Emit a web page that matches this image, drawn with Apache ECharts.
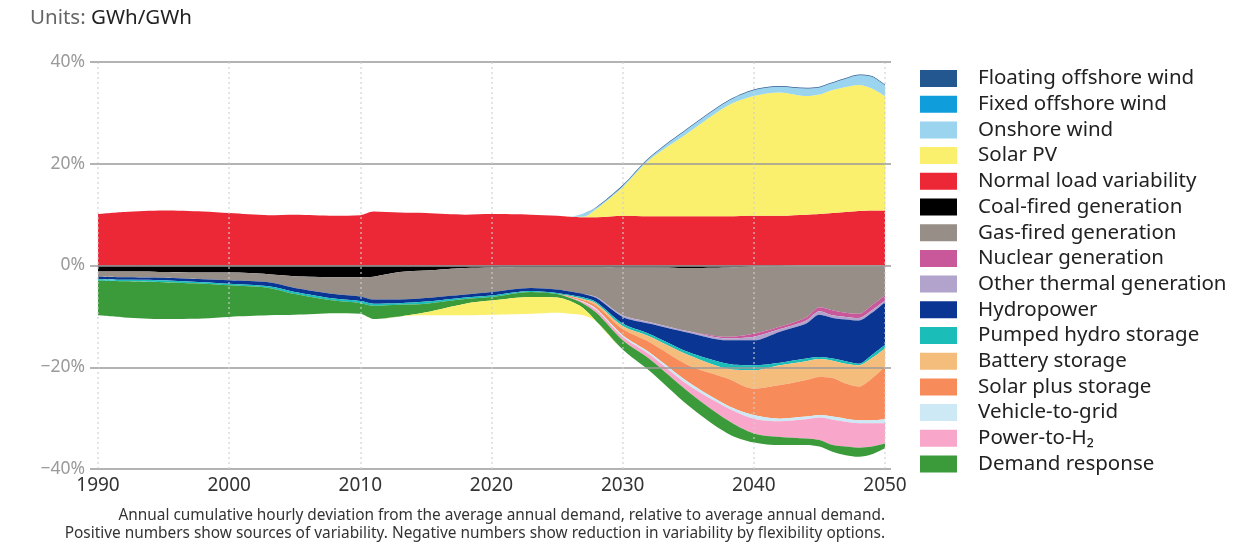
<!DOCTYPE html>
<html><head><meta charset="utf-8">
<script src="https://cdn.jsdelivr.net/npm/echarts@6/dist/echarts.min.js"></script>
<style>html,body{margin:0;padding:0;background:#fff}#c{width:1252px;height:545px}</style>
</head><body><div id="c"></div><script>
const years = [1990,1992,1995,1998,2000,2003,2005,2008,2010,2011,2013,2015,2018,2020,2023,2025,2026,2027,2028,2030,2032,2035,2038,2040,2042,2044,2045,2046,2047,2048,2049,2050];

// Positive side (sources of variability)
const normalLoad = [10.1,10.5,10.8,10.6,10.3,9.9,10.0,9.8,9.9,10.6,10.4,10.3,10.0,10.1,10.0,9.8,9.6,9.5,9.5,9.8,9.7,9.7,9.7,9.8,9.8,10.0,10.1,10.3,10.5,10.7,10.8,10.8];
const solarPV = [0,0,0,0,0,0,0,0,0,0,0,0,0,0,0,0,0,0.1,1.6,5.6,11.0,16.4,21.7,23.5,24.2,23.3,23.5,24.2,24.6,24.8,24.0,22.5];
const onshoreWind = [0,0,0,0,0,0,0,0,0,0,0,0,0,0,0,0,0,0.6,0.3,0.25,0.35,0.85,0.85,1.15,1.15,1.5,1.4,1.35,1.6,1.9,2.3,2.1];
const fixedOffshoreWind = [0,0,0,0,0,0,0,0,0,0,0,0,0,0,0,0,0,0,0,0,0,0,0,0,0,0,0,0,0,0,0,0];
const floatingOffshoreWind = [0,0,0,0,0,0,0,0,0,0,0,0,0,0,0,0,0,0,0.1,0.15,0.15,0.15,0.15,0.15,0.15,0.15,0.15,0.15,0.15,0.15,0.15,0.15];

// Negative side (flexibility options)
const coal = [-1.2,-1.2,-1.3,-1.4,-1.4,-1.7,-2.1,-2.3,-2.3,-2.2,-1.3,-1.0,-0.5,-0.4,-0.3,-0.3,-0.3,-0.3,-0.3,-0.4,-0.4,-0.5,-0.4,-0.2,-0.1,0,0,0,0,0,0,0];
const gas = [-1.0,-1.1,-1.1,-1.3,-1.5,-1.6,-2.3,-3.3,-3.8,-4.5,-5.4,-5.4,-5.2,-4.8,-4.1,-4.4,-4.8,-5.3,-5.9,-9.4,-10.7,-12.4,-13.6,-13.2,-11.9,-10.2,-8.2,-8.8,-9.3,-9.5,-7.8,-5.9];
const nuclear = [0,0,0,0,0,0,0,0,0,0,0,0,0,0,0,0,0,0,0,0,0,0,-0.3,-0.6,-0.5,-0.6,-0.8,-1.0,-0.8,-0.8,-1.0,-1.0];
const otherThermal = [0,0,0,0,0,0,0,0,0,0,0,0,0,0,0,0,0,0,-0.2,-0.3,-0.3,-0.3,-0.4,-0.7,-0.5,-0.6,-0.7,-0.5,-0.5,-0.5,-0.5,-0.3];
const hydro = [-0.5,-0.5,-0.5,-0.6,-0.7,-0.8,-0.8,-0.9,-0.9,-0.8,-0.7,-0.7,-0.6,-0.7,-0.6,-0.7,-0.7,-0.7,-0.8,-1.3,-2.0,-3.8,-4.6,-4.9,-6.1,-6.9,-8.3,-8.0,-8.2,-8.5,-8.3,-8.4];
const pumpedHydro = [-0.3,-0.3,-0.4,-0.3,-0.3,-0.3,-0.4,-0.4,-0.4,-0.4,-0.3,-0.4,-0.3,-0.3,-0.2,-0.2,-0.2,-0.3,-0.3,-0.5,-0.5,-0.6,-1.0,-1.0,-0.5,-0.5,-0.4,-0.4,-0.5,-0.3,-0.6,-0.7];
const battery = [0,0,0,0,0,0,0,0,0,0,0,0,0,0,0,0,-0.1,-0.2,-0.4,-0.6,-1.1,-2.0,-1.9,-3.6,-3.9,-3.7,-3.5,-3.4,-3.9,-4.2,-4.0,-3.6];
const solarStorage = [0,0,0,0,0,0,0,0,0,0,0,0,0,0,0,0,-0.2,-0.3,-0.6,-1.2,-2.0,-3.3,-5.3,-5.2,-6.6,-7.2,-7.5,-7.6,-6.9,-6.6,-8.2,-10.3];
const vehicleToGrid = [0,0,0,0,0,0,0,0,0,0,0,0,0,0,0,0,0,-0.1,-0.2,-0.3,-0.4,-0.6,-0.5,-0.7,-0.5,-0.5,-0.5,-0.6,-0.6,-0.6,-0.6,-0.8];
const powerToH2 = [0,0,0,0,0,0,0,0,0,0,0,0,0,0,0,0,-0.1,-0.3,-0.6,-0.7,-0.9,-1.3,-2.4,-2.9,-3.1,-3.8,-4.4,-5.0,-4.9,-4.8,-4.6,-4.0];
const demandResponse = [-6.8,-7.1,-7.2,-6.8,-6.2,-5.4,-4.1,-2.5,-2.1,-2.6,-2.3,-1.7,-0.9,-0.7,-1.0,-0.7,-0.6,-0.9,-1.7,-1.8,-2.3,-2.7,-2.6,-1.8,-1.6,-1.3,-1.3,-1.3,-1.7,-1.8,-1.5,-0.9];
const solarPVNeg = [0,0,0,0,0,0,0,0,0,0,0,-0.6,-2.3,-2.8,-3.3,-3.0,-2.5,-1.4,0,0,0,0,0,0,0,0,0,0,0,0,0,0];

const yTicks = [-40,-20,0,20,40];
const xTicks = [1990,2000,2010,2020,2030,2040,2050];

const FONT = 'Noto Sans';
const posSeries = [
  ['Normal load variability', normalLoad, '#ec2837'],
  ['Solar PV', solarPV, '#fbf06e'],
  ['Onshore wind', onshoreWind, '#9ad4ef'],
  ['Fixed offshore wind', fixedOffshoreWind, '#0f9ddc'],
  ['Floating offshore wind', floatingOffshoreWind, '#22578f']
];
const negSeries = [
  ['Coal-fired generation', coal, '#000000'],
  ['Gas-fired generation', gas, '#968e87'],
  ['Nuclear generation', nuclear, '#c8589a'],
  ['Other thermal generation', otherThermal, '#b2a3cc'],
  ['Hydropower', hydro, '#0a3592'],
  ['Pumped hydro storage', pumpedHydro, '#1bbdb9'],
  ['Battery storage', battery, '#f5bd7c'],
  ['Solar plus storage', solarStorage, '#f78c5a'],
  ['Vehicle-to-grid', vehicleToGrid, '#cde9f5'],
  ['Power-to-H\u2082', powerToH2, '#f8a6c9'],
  ['Demand response', demandResponse, '#3b9a3a'],
  ['Solar PV (negative)', solarPVNeg, '#fbf06e']
];
// value first, year second: the stacked dimension is then the y value
function mk(def, stack) {
  return {
    name: def[0], type: 'line', stack: stack, smooth: 0.3, symbol: 'none',
    data: years.map((y, i) => [def[1][i], y]),
    encode: { x: 1, y: 0 },
    lineStyle: { width: 0 }, itemStyle: { color: def[2] },
    areaStyle: { color: def[2], opacity: 1 }, emphasis: { disabled: true }, silent: true
  };
}
const series = posSeries.map(d => mk(d, 'pos')).concat(negSeries.map(d => mk(d, 'neg')));

const legendNames = ['Floating offshore wind','Fixed offshore wind','Onshore wind','Solar PV','Normal load variability','Coal-fired generation','Gas-fired generation','Nuclear generation','Other thermal generation','Hydropower','Pumped hydro storage','Battery storage','Solar plus storage','Vehicle-to-grid','Power-to-H\u2082','Demand response'];

const chart = echarts.init(document.getElementById('c'), null, { renderer: 'canvas' });
chart.setOption({
  animation: false,
  textStyle: { fontFamily: FONT },
  grid: { left: 98, right: 367, top: 62, bottom: 76 },
  xAxis: {
    type: 'value', min: xTicks[0], max: xTicks[xTicks.length - 1], interval: 10, zlevel: 1,
    axisLine: { show: false }, axisTick: { show: false },
    axisLabel: { color: '#333', fontSize: 19, margin: 7, fontFamily: FONT, formatter: v => String(v) },
    splitLine: { show: true, showMinLine: true, showMaxLine: true, lineStyle: { type: [2, 3], color: 'rgba(205,205,205,0.75)', width: 1.5 } }
  },
  yAxis: [{
    type: 'value', min: yTicks[0], max: yTicks[yTicks.length - 1], interval: 20, zlevel: 1,
    axisLine: { show: false },
    axisTick: { show: true, length: 8, lineStyle: { color: '#9a9a9a', width: 1.5 } },
    axisLabel: { color: '#9a9a9a', fontSize: 17.5, margin: 13, fontFamily: FONT,
      formatter: v => (v < 0 ? '\u2212' + Math.abs(v) : v) + '%' },
    splitLine: { show: true, lineStyle: { color: '#9a9a9a', width: 1.5 } }
  }, {
    type: 'value', position: 'right', min: yTicks[0], max: yTicks[yTicks.length - 1], interval: 20, zlevel: 1,
    axisLine: { show: false }, axisLabel: { show: false }, splitLine: { show: false },
    axisTick: { show: true, length: 6, lineStyle: { color: '#9a9a9a', width: 1.5 } }
  }],
  legend: {
    orient: 'vertical', left: 915, top: 63, itemWidth: 37, itemHeight: 17, itemGap: 4.7,
    icon: 'rect', selectedMode: false, data: legendNames,
    textStyle: { fontSize: 20.5, color: '#222', fontFamily: FONT, lineHeight: 17, padding: [0, 0, 0, 16] }
  },
  graphic: [
    { type: 'text', left: 30, top: 8, style: { rich: { a: { fill: '#666', fontSize: 20.5, fontFamily: FONT }, b: { fill: '#222', fontSize: 20.5, fontFamily: FONT } }, text: '{a|Units: }{b|GWh/GWh}' } },
    { type: 'text', x: 885, y: 508, style: { text: 'Annual cumulative hourly deviation from the average annual demand, relative to average annual demand.', textAlign: 'right', fill: '#333', fontSize: 15.4, fontFamily: FONT } },
    { type: 'text', x: 885, y: 526, style: { text: 'Positive numbers show sources of variability. Negative numbers show reduction in variability by flexibility options.', textAlign: 'right', fill: '#333', fontSize: 15.4, fontFamily: FONT } }
  ],
  series: series
});
</script></body></html>
